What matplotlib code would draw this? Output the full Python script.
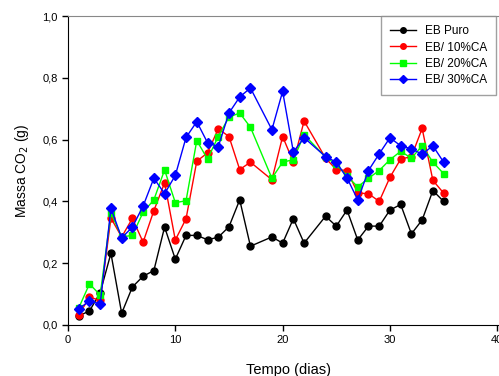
import matplotlib
matplotlib.use('Agg')
import matplotlib.pyplot as plt
from matplotlib.ticker import FuncFormatter

plt.rcParams['font.family'] = ['Liberation Sans', 'DejaVu Sans']

dias = [1, 2, 3, 4, 5, 6, 7, 8, 9, 10, 11, 12, 13, 14, 15, 16, 17,
        19, 20, 21, 22, 24, 25, 26, 27, 28, 29, 30, 31, 32, 33, 34, 35]

eb_puro = [0.030, 0.045, 0.105, 0.232, 0.038, 0.123, 0.158, 0.176, 0.317, 0.213,
           0.290, 0.290, 0.276, 0.284, 0.318, 0.405, 0.255, 0.285, 0.265, 0.344,
           0.265, 0.352, 0.320, 0.372, 0.275, 0.320, 0.320, 0.372, 0.390, 0.295,
           0.340, 0.435, 0.400]

eb_10 = [0.032, 0.090, 0.080, 0.346, 0.285, 0.345, 0.268, 0.370, 0.460, 0.275,
         0.344, 0.530, 0.557, 0.635, 0.610, 0.503, 0.527, 0.470, 0.610, 0.527,
         0.660, 0.540, 0.503, 0.500, 0.427, 0.425, 0.400, 0.478, 0.537, 0.545,
         0.636, 0.468, 0.427]

eb_20 = [0.055, 0.133, 0.097, 0.363, 0.285, 0.290, 0.365, 0.405, 0.502, 0.396,
         0.402, 0.597, 0.537, 0.610, 0.673, 0.686, 0.640, 0.475, 0.527, 0.535,
         0.616, 0.543, 0.520, 0.482, 0.447, 0.475, 0.500, 0.535, 0.562, 0.540,
         0.580, 0.527, 0.490]

eb_30 = [0.052, 0.078, 0.068, 0.378, 0.282, 0.317, 0.385, 0.475, 0.425, 0.484,
         0.607, 0.658, 0.590, 0.577, 0.686, 0.738, 0.767, 0.632, 0.756, 0.560,
         0.606, 0.545, 0.527, 0.476, 0.405, 0.500, 0.554, 0.606, 0.580, 0.570,
         0.553, 0.580, 0.527]

fig = plt.figure(figsize=(4.99, 3.76), dpi=100)
# axes runs past the right edge of the picture, like the cropped original
ax = fig.add_axes([68/499, 1-325/376, 440/499, 309/376])

ax.plot(dias, eb_puro, '-o', color='black', ms=5, lw=1, label='EB Puro')
ax.plot(dias, eb_10, '-o', color='#ff0000', ms=5, lw=1, label='EB/ 10%CA')
ax.plot(dias, eb_20, '-s', color='#00ff00', ms=5, lw=1, label='EB/ 20%CA')
ax.plot(dias, eb_30, '-D', color='#0000ff', ms=5.5, lw=1, label='EB/ 30%CA')

ax.set_xlim(0, 41)
ax.set_ylim(0, 1.0)
ax.set_xticks([0, 10, 20, 30, 40])
ax.set_yticks([0, 0.2, 0.4, 0.6, 0.8, 1.0])
ax.yaxis.set_major_formatter(FuncFormatter(lambda v, p: f'{v:.1f}'.replace('.', ',')))
ax.tick_params(direction='out', length=4, width=1, labelsize=8)

ax.spines['top'].set_color('#888888')
ax.spines['right'].set_visible(False)

ax.set_xlabel('Tempo (dias)', fontsize=10.5, labelpad=13)
ax.set_ylabel('Massa CO$_2$ (g)', fontsize=10, labelpad=8)

leg = ax.legend(loc='upper left', bbox_to_anchor=(381/499, 1-16/376),
                bbox_transform=fig.transFigure, borderaxespad=0,
                fontsize=8.5, fancybox=False, edgecolor='#888888',
                handlelength=2.2, labelspacing=0.35, borderpad=0.8,
                markerscale=0.8, handletextpad=0.7)
leg.get_frame().set_linewidth(1)

fig.savefig('out.png', dpi=100)
